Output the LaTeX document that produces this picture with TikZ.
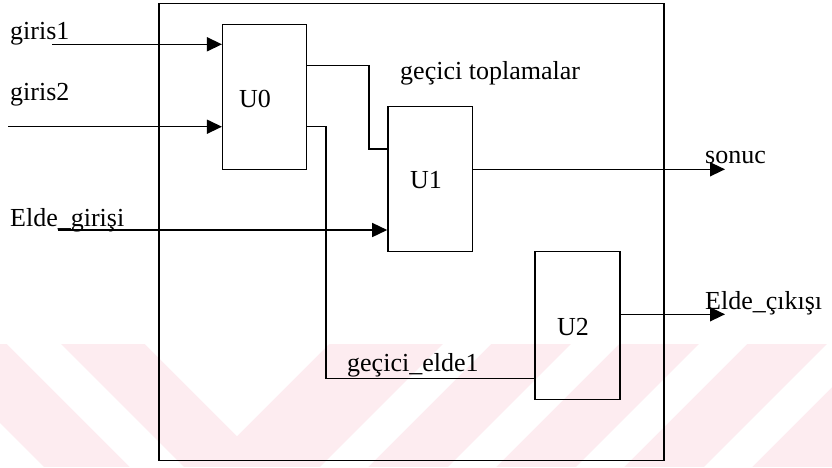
\documentclass[tikz,border=0pt]{standalone}
\usepackage{fontspec}
\setmainfont{Liberation Serif}
\usetikzlibrary{arrows.meta}
\definecolor{wmpink}{RGB}{253,236,240}
\tikzset{
  box/.style={draw, line width=1.5pt, inner sep=0pt, rectangle},
  wire/.style={draw, line width=1.5pt},
  arr/.style={wire, -{Triangle[length=15pt,width=14pt]}},
  lbl/.style={inner sep=0pt, anchor=base west, font=\fontsize{26}{30}\selectfont},
  ulbl/.style={inner sep=0pt, font=\fontsize{26}{30}\selectfont},
}
\begin{document}
\begin{tikzpicture}[x=1pt,y=-1pt]
\useasboundingbox (0,0) rectangle (832,467);
% watermark band
\begin{scope}
  \clip (0,344) rectangle (832,467);
  \fill[wmpink] (0,344) rectangle (832,467);
  % left stripes (x - y = c)
  \foreach \a/\b in {-477/-423, -337/-283}{
    \fill[white] (\a+344,344) -- (\b+344,344) -- (\b+467,467) -- (\a+467,467) -- cycle;
  }
  % centre chevron
  \fill[white] (145,344) -- (329,344) -- (237,436) -- cycle;
  % right stripes (x + y = c)
  \foreach \a/\b in {787/835, 915/963, 1043/1091, 1171/1219}{
    \fill[white] (\a-344,344) -- (\b-344,344) -- (\b-467,467) -- (\a-467,467) -- cycle;
  }
\end{scope}
% outer box
\node[box, minimum width=505pt, minimum height=457.4pt] (outer) at (411.5,232) {};
% blocks
\node[box, minimum width=84pt, minimum height=145pt] (U0) at (264.7,96.8) {};
\node[box, minimum width=84.7pt, minimum height=145pt] (U1) at (430.3,179.2) {};
\node[box, minimum width=85pt, minimum height=147.6pt] (U2) at (577.5,325.5) {};
\node[ulbl] (U0l) at (255,99) {U0};
\node[ulbl] (U1l) at (426,180) {U1};
\node[ulbl] (U2l) at (573,327) {U2};
% coordinates
\coordinate (g1) at (52,44.3);
\coordinate (g2) at (8,126.7);
\coordinate (eg) at (58,230);
\coordinate (t1) at (369,65.7);
\coordinate (t1b) at (369,149);
\coordinate (e1) at (326,126.7);
\coordinate (e1b) at (326,378.3);
\coordinate (so) at (725,169.3);
\coordinate (ec) at (725,314.3);
% inputs
\draw[arr] (g1) -- (g1 -| U0.west);
\draw[arr] (g2) -- (g2 -| U0.west);
\draw[arr] (eg) -- (eg -| U1.west);
% internal wires
\draw[wire] (U0.east |- t1) -- (t1) -- (t1b) -- (U1.west |- t1b);
\draw[wire] (U0.east |- e1) -- (e1) -- (e1b) -- (U2.west |- e1b);
% outputs
\draw[arr] (U1.east |- so) -- (so);
\draw[arr] (U2.east |- ec) -- (ec);
% labels
\node[lbl] (lg1) at (10,39.5) {giris1};
\node[lbl] (lg2) at (10,100) {giris2};
\node[lbl] (leg) at (10,226) {Elde\_girişi};
\node[lbl] (lgt) at (400,79) {geçici toplamalar};
\node[lbl] (lge) at (347,371) {geçici\_elde1};
\node[lbl] (lso) at (705,163) {sonuc};
\node[lbl] (lec) at (705,309) {Elde\_çıkışı};
\end{tikzpicture}
\end{document}
